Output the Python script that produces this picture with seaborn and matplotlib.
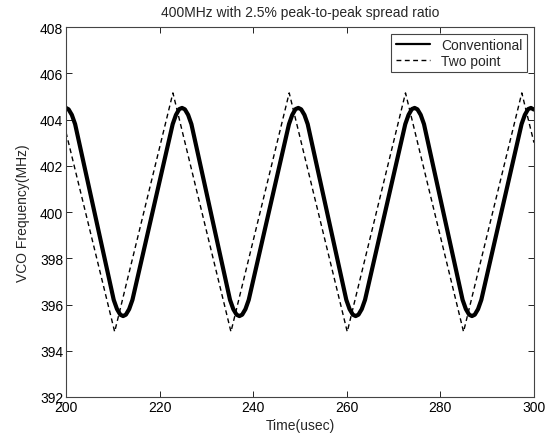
import numpy as np
import pandas as pd
import matplotlib
matplotlib.use("Agg")
import matplotlib.pyplot as plt
import seaborn as sns

# ----------------------------
# Data
# ----------------------------
conv_time = [200.0, 200.55, 201.25, 201.95, 210.2, 210.9, 211.6, 212.2,
             212.8, 213.5, 214.2, 222.8, 223.5, 224.2, 224.8,
             225.4, 226.1, 226.8, 235.05, 235.75, 236.45, 237.05,
             237.65, 238.35, 239.05, 247.65, 248.35, 249.05, 249.65,
             250.25, 250.95, 251.65, 259.9, 260.6, 261.3, 261.9,
             262.5, 263.2, 263.9, 272.5, 273.2, 273.9, 274.5,
             275.1, 275.8, 276.5, 284.75, 285.45, 286.15, 286.75,
             287.35, 288.05, 288.75, 297.35, 298.05, 298.75, 299.35,
             300.0]
conv_freq = [404.5, 404.44, 404.2, 403.8, 396.2, 395.8, 395.56, 395.5,
             395.56, 395.8, 396.2, 403.8, 404.2, 404.45, 404.5,
             404.44, 404.2, 403.8, 396.2, 395.8, 395.56, 395.5,
             395.56, 395.8, 396.2, 403.8, 404.2, 404.45, 404.5,
             404.44, 404.2, 403.8, 396.2, 395.8, 395.56, 395.5,
             395.56, 395.8, 396.2, 403.8, 404.2, 404.45, 404.5,
             404.44, 404.2, 403.8, 396.2, 395.8, 395.56, 395.5,
             395.56, 395.8, 396.2, 403.8, 404.2, 404.45, 404.5,
             404.43]

two_time = [200.0, 210.4, 222.85, 235.25, 247.7, 260.1, 272.55, 284.95, 297.4, 300.0]
two_freq = [403.45, 394.82, 405.15, 394.82, 405.15, 394.82, 405.15, 394.82, 405.15, 403.0]

x_ticks = [200, 220, 240, 260, 280, 300]
y_ticks = [392, 394, 396, 398, 400, 402, 404, 406, 408]

# ----------------------------
# Style
# ----------------------------
sns.set_style("ticks")
plt.rcParams["font.family"] = ["Liberation Sans", "DejaVu Sans"]
plt.rcParams["font.size"] = 10
plt.rcParams["xtick.direction"] = "in"
plt.rcParams["ytick.direction"] = "in"

fig = plt.figure(figsize=(5.55, 4.39), dpi=100)
ax = fig.add_axes([0.1189, 0.0934, 0.8432, 0.8428])

conv = pd.DataFrame({"t": conv_time, "f": conv_freq})
two = pd.DataFrame({"t": two_time, "f": two_freq})

sns.lineplot(data=conv, x="t", y="f", ax=ax, color="black", linewidth=3.0,
             sort=False, estimator=None, label="Conventional")
sns.lineplot(data=two, x="t", y="f", ax=ax, color="black", linewidth=1.0,
             linestyle=(0, (3.5, 2.5)), sort=False, estimator=None,
             label="Two point")

ax.set_xlim(200, 300)
ax.set_ylim(392, 408)
ax.set_xticks(x_ticks)
ax.set_yticks(y_ticks)
ax.tick_params(top=True, right=True, length=4, width=0.6, labelsize=10,
               colors="black", pad=2)
for s in ax.spines.values():
    s.set_visible(True)
    s.set_color("#444444")
    s.set_linewidth(0.8)

ax.set_title("400MHz with 2.5% peak-to-peak spread ratio", fontsize=10, pad=8)
ax.set_xlabel("Time(usec)", fontsize=10, labelpad=3)
ax.set_ylabel("VCO Frequency(MHz)", fontsize=10, labelpad=7)

leg = ax.legend(loc="upper right", fontsize=10, frameon=True, fancybox=False,
                framealpha=1, edgecolor="#444444", borderpad=0.3,
                handlelength=2.5, labelspacing=0.1, borderaxespad=0.5)
leg.get_frame().set_linewidth(0.8)
for h in leg.get_lines():
    h.set_linewidth(1.6 if h.get_label() == "Conventional" else 1.0)

fig.savefig("out.png", dpi=100)
